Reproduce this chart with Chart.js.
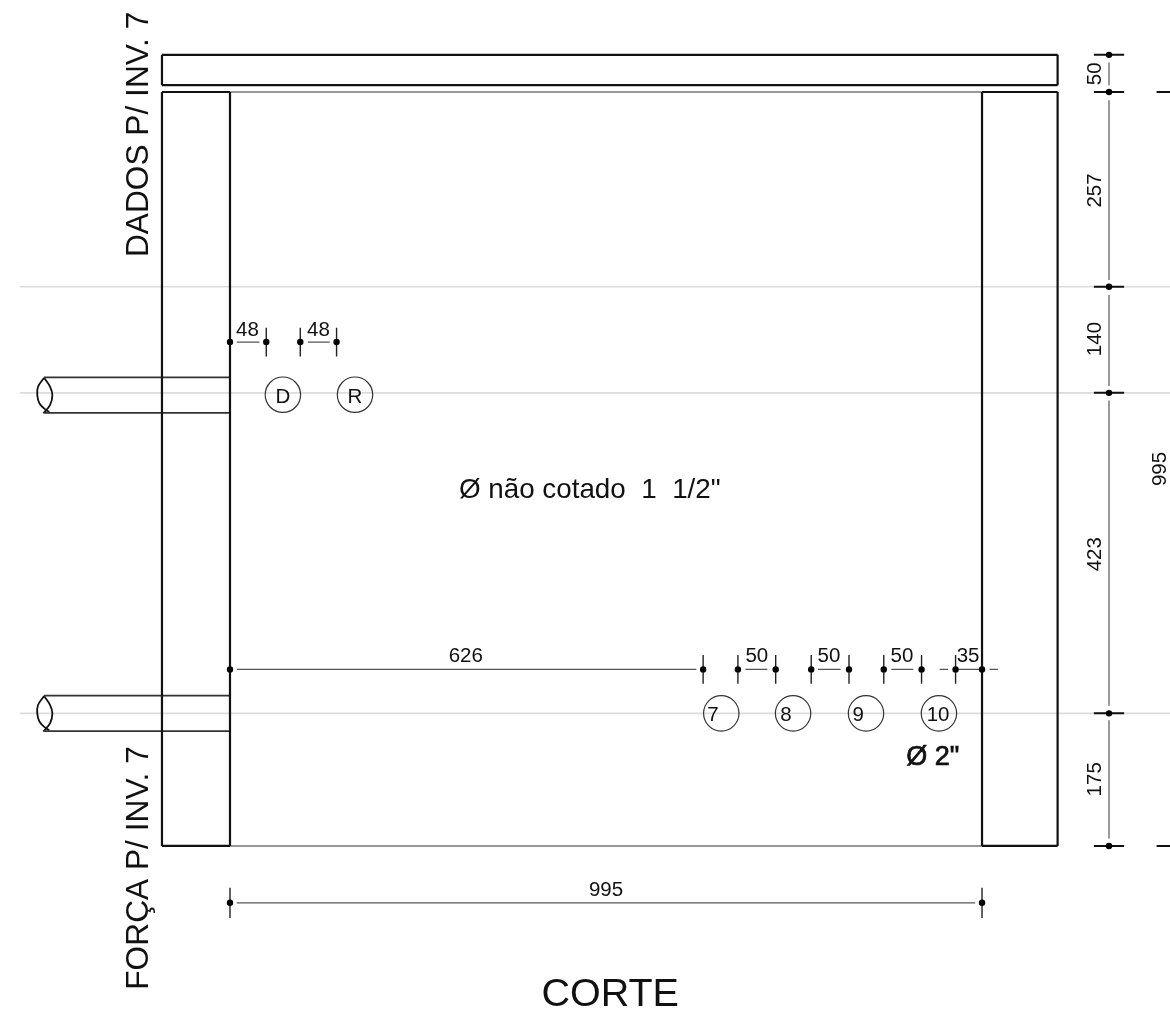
<!DOCTYPE html>
<html>
<head>
<meta charset="utf-8">
<title>Corte</title>
<script src="https://cdn.jsdelivr.net/npm/chart.js@4"></script>
<style>
	html, body { margin: 0; padding: 0; background: #fff; }
	canvas { display: block; }
</style>
</head>
<body>
<canvas id="corte" width="1170" height="1017"></canvas>
<script>
// all values in mm, origin = inner left wall / floor
var chainY = [0, 175, 598, 738, 995, 1044];
var chainLabels = ['175', '423', '140', '257', '50'];
var chainLabelY = [88, 385, 669, 865, 1019];
var chainGaps = [[10, 166], [185, 588], [607, 727], [747, 984], [1004, 1034]];
var totalChainY = [0, 995];

var wallX = [-90, 0, 995, 1095];
var slabY = [1004, 1044];

var centerLineY = [175, 598, 738];

var pipeY = [175, 595];
var pipeHalf = 23.5;
var lensLeftX = [-246, -254, -255, -252, -243, -239];
var lensLeftDy = [23, 11, 0, -11, -20, -22];
var lensRightX = [-246, -238, -235, -238, -247];
var lensRightDy = [23, 11, 0, -13, -24];

var smallDimX = [0, 48, 93, 141];
var smallDimY = 665;
var smallDimLabels = ['48', '48'];
var smallDimLabelX = [23, 117];

var rowDimX = [626, 672, 722, 769, 819, 865, 915, 960, 995];
var rowDimY = 233;
var rowDimLines = [[9, 617], [682, 711], [778, 808], [875, 904], [939, 950], [960, 992], [1005, 1016]];
var rowDimLabels = ['626', '50', '50', '50', '35'];
var rowDimLabelX = [312, 697, 792.5, 889, 976.5];

var bottomDimY = -75;
var bottomDimLine = [9, 986];

var pipeCircleX = [70, 165.4, 650, 745, 841.5, 938];
var pipeCircleY = [595.5, 595.5, 175, 175, 175, 175];
var pipeNames = ['D', 'R', '7', '8', '9', '10'];
var pipeNameX = [70, 165.4, 639, 735.6, 831, 936.8];
var pipeNameY = [585, 585, 165, 165, 165, 165];

var FONT = '"Liberation Sans", Arial, sans-serif';

// helpers
function segs(list) {
	var out = [];
	list.forEach(function (s) {
		out.push({ x: s[0], y: s[1] }, { x: s[2], y: s[3] }, { x: null, y: null });
	});
	return out;
}

function line(data, color, width, order, extra) {
	return Object.assign({
		data: data, showLine: true, borderColor: color, borderWidth: width,
		pointRadius: 0, order: order
	}, extra || {});
}

// building
var wallSegs = [
	[wallX[0], slabY[0], wallX[3], slabY[0]], [wallX[3], slabY[0], wallX[3], slabY[1]],
	[wallX[3], slabY[1], wallX[0], slabY[1]], [wallX[0], slabY[1], wallX[0], slabY[0]],
	[wallX[0], 995, wallX[1], 995], [wallX[0], 0, wallX[1], 0],
	[wallX[0], 0, wallX[0], 995], [wallX[1], 0, wallX[1], 995],
	[wallX[2], 995, wallX[3], 995], [wallX[2], 0, wallX[3], 0],
	[wallX[2], 0, wallX[2], 995], [wallX[3], 0, wallX[3], 995]
];
var ceilingSegs = [[wallX[1], 995, wallX[2], 995], [wallX[1], 0, wallX[2], 0]];

var centerSegs = centerLineY.map(function (y) { return [-278, y, 1250, y]; });

var pipeSegs = [];
pipeY.forEach(function (y) {
	pipeSegs.push([-246, y + pipeHalf, 0, y + pipeHalf], [-246, y - pipeHalf, 0, y - pipeHalf]);
});

var lensSets = [];
pipeY.forEach(function (y) {
	lensSets.push(line(lensLeftX.map(function (x, i) { return { x: x, y: y + lensLeftDy[i] }; }), '#111', 1.8, 3, { tension: 0.4 }));
	lensSets.push(line(lensRightX.map(function (x, i) { return { x: x, y: y + lensRightDy[i] }; }), '#111', 1.8, 3, { tension: 0.4 }));
});

// dimension lines, ticks and dots
var dimSegs = [], tickSegs = [], chainTickSegs = [], dots = [];

chainGaps.forEach(function (g) { dimSegs.push([1163, g[0], 1163, g[1]]); });
chainY.forEach(function (y) {
	chainTickSegs.push([1143, y, 1183, y]);
	dots.push({ x: 1163, y: y });
});
totalChainY.forEach(function (y) { chainTickSegs.push([1226, y, 1260, y]); });

smallDimX.forEach(function (x, i) {
	if (i > 0) tickSegs.push([x, smallDimY - 19, x, smallDimY + 19]);
	dots.push({ x: x, y: smallDimY });
});
dimSegs.push([9, smallDimY, 39, smallDimY], [103, smallDimY, 132, smallDimY]);

rowDimX.forEach(function (x, i) {
	if (i < rowDimX.length - 1) tickSegs.push([x, rowDimY - 19, x, rowDimY + 19]);
	dots.push({ x: x, y: rowDimY });
});
dots.push({ x: 0, y: rowDimY });
rowDimLines.forEach(function (l) { dimSegs.push([l[0], rowDimY, l[1], rowDimY]); });

dimSegs.push([bottomDimLine[0], bottomDimY, bottomDimLine[1], bottomDimY]);
[0, 995].forEach(function (x) {
	tickSegs.push([x, bottomDimY - 20, x, bottomDimY + 20]);
	dots.push({ x: x, y: bottomDimY });
});

var circles = pipeCircleX.map(function (x, i) { return { x: x, y: pipeCircleY[i] }; });

// text: [string, x, y, size, rotated, heavy]
var texts = [
	['DADOS P/ INV. 7', -108, 939, 31.7, true],
	['FORÇA P/ INV. 7', -108, -29, 31.7, true],
	['CORTE', 503, -211, 39.5, false],
	['Ø não cotado  1  1/2"', 476, 459, 27.8, false],
	['Ø 2"', 930, 107, 27, false, true],
	['995', 497.5, -66, 20.5, false],
	['995', 1238, 497.5, 20.5, true]
];
smallDimLabels.forEach(function (t, i) { texts.push([t, smallDimLabelX[i], 673, 20.5, false]); });
rowDimLabels.forEach(function (t, i) { texts.push([t, rowDimLabelX[i], 243, 20.5, false]); });
chainLabels.forEach(function (t, i) { texts.push([t, 1152.4, chainLabelY[i], 20.5, true]); });
pipeNames.forEach(function (t, i) { texts.push([t, pipeNameX[i], pipeNameY[i], 20.5, false]); });

var drawingText = {
	id: 'drawingText',
	afterDatasetsDraw: function (chart) {
		var c = chart.ctx, sx = chart.scales.x, sy = chart.scales.y;
		c.save();
		c.fillStyle = '#111';
		c.strokeStyle = '#111';
		c.textAlign = 'center';
		c.textBaseline = 'alphabetic';
		texts.forEach(function (t) {
			c.save();
			c.translate(sx.getPixelForValue(t[1]), sy.getPixelForValue(t[2]));
			if (t[4]) c.rotate(-Math.PI / 2);
			c.font = t[3] + 'px ' + FONT;
			c.fillText(t[0], 0, 0);
			if (t[5]) { c.lineWidth = 0.7; c.strokeText(t[0], 0, 0); }
			c.restore();
		});
		c.restore();
	}
};

// lower order is drawn on top, the grey centre lines go under everything
new Chart(document.getElementById('corte'), {
	type: 'scatter',
	data: {
		datasets: [
			line(segs(centerSegs), '#dcdcdc', 1.6, 5),
			line(segs(wallSegs), '#111', 2.2, 2),
			line(segs(ceilingSegs), '#777', 1.4, 3),
			line(segs(pipeSegs), '#333', 1.8, 3),
			line(segs(dimSegs), '#555', 1.2, 3),
			line(segs(tickSegs), '#222', 1.4, 3),
			line(segs(chainTickSegs), '#111', 2, 3)
		].concat(lensSets).concat([
			{ data: dots, pointRadius: 3.2, pointBackgroundColor: '#000', pointBorderWidth: 0, order: 0 },
			{ data: circles, pointRadius: 17.7, pointBackgroundColor: 'rgba(0,0,0,0)', pointBorderColor: '#333', pointBorderWidth: 1.2, order: 0 }
		])
	},
	options: {
		responsive: false,
		animation: false,
		layout: { padding: 0, autoPadding: false },
		events: [],
		plugins: { legend: { display: false }, tooltip: { enabled: false } },
		scales: {
			x: { type: 'linear', display: false, min: -304.3, max: 1243.7 },
			y: { type: 'linear', display: false, min: -225.7, max: 1116.4 }
		}
	},
	plugins: [drawingText]
});
</script>
</body>
</html>
